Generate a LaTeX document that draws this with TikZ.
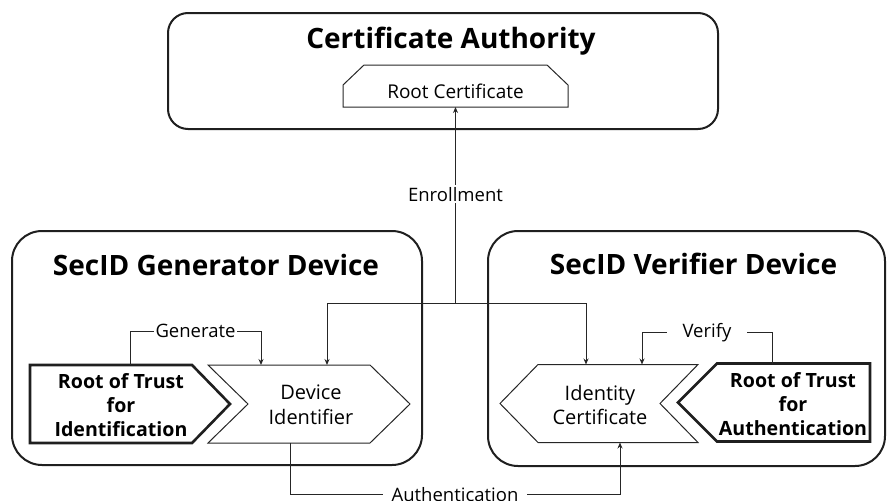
\documentclass[tikz,border=0pt]{standalone}
\usepackage{fontspec}
\setmainfont{Open Sans}
\usetikzlibrary{arrows.meta,calc}
\begin{document}
\begin{tikzpicture}[x=1pt,y=-1pt,
  every node/.style={inner sep=0pt, outer sep=0pt},
  groupbox/.style={draw=black!88, line width=2pt, rounded corners=#1},
  groupbox/.default=30pt,
  title/.style={anchor=base, font=\fontsize{28}{32}\selectfont\bfseries},
  holder/.style={minimum width=#1, minimum height=78pt},
  thinline/.style={draw=black!85, line width=1pt},
  trustline/.style={draw=black!88, line width=2.6pt, line join=miter},
  body/.style={align=center, font=\fontsize{20}{24.5}\selectfont},
  bodybold/.style={align=center, font=\fontsize{19.6}{24}\selectfont\bfseries},
  conn/.style={draw=black!85, line width=1pt},
  arrow/.style={conn, -{Stealth[length=6pt,width=5pt]}},
  lbl/.style={fill=white, font=\fontsize{18.5}{22}\selectfont, inner ysep=2pt, inner xsep=#1},
  lbl/.default=2pt
]
\useasboundingbox (0,0) rectangle (887,501);

% --- Certificate Authority ---
\node[groupbox=20pt, minimum width=550pt, minimum height=116pt] (ca) at (443,71) {};
\node[title] (catitle) at (451,48.5) {Certificate Authority};
\node[minimum width=225pt, minimum height=42pt] (rc) at (455.5,86) {};
\draw[thinline] (rc.south west) -- ($(rc.west)+(0,-1)$) -- ($(rc.north west)+(21,0)$)
  -- ($(rc.north east)+(-21,0)$) -- ($(rc.east)+(0,-1)$) -- (rc.south east) -- cycle;
\node[anchor=base, font=\fontsize{19}{22}\selectfont] (rctext) at (455.5,98) {Root Certificate};

% --- SecID Generator Device ---
\node[groupbox, minimum width=410pt, minimum height=234pt] (gen) at (217,348) {};
\node[title] (gentitle) at (216,275) {SecID Generator Device};

\node[holder=200pt] (rti) at (130,404) {};
\draw[trustline] (rti.north west) -- ($(rti.north east)+(-38,0)$) -- (rti.east)
  -- ($(rti.south east)+(-38,0)$) -- (rti.south west) -- cycle;
\node[bodybold] (rtitext) at (121,405) {Root of Trust\\for\\Identification};

\node[holder=202pt] (devid) at (309,404) {};
\draw[thinline] (devid.north west) -- ($(devid.north east)+(-40,0)$) -- (devid.east)
  -- ($(devid.south east)+(-40,0)$) -- (devid.south west) -- ($(devid.west)+(40,0)$) -- cycle;
\node[body] (devidtext) at (311,405) {Device\\Identifier};

% --- SecID Verifier Device ---
\node[groupbox, minimum width=397pt, minimum height=235pt] (ver) at (686.5,348.5) {};
\node[title] (vertitle) at (693.5,274) {SecID Verifier Device};

\node[holder=198pt] (ic) at (599,403.5) {};
\draw[thinline] (ic.west) -- ($(ic.north west)+(38,0)$) -- (ic.north east)
  -- ($(ic.east)+(-38,0)$) -- (ic.south east) -- ($(ic.south west)+(38,0)$) -- cycle;
\node[body] (ictext) at (600,405) {Identity\\Certificate};

\node[holder=192pt] (rta) at (774,402.5) {};
\draw[trustline] (rta.west) -- ($(rta.north west)+(39,0)$) -- (rta.north east)
  -- (rta.south east) -- ($(rta.south west)+(39,0)$) -- cycle;
\node[bodybold] (rtatext) at (793,404) {Root of Trust\\for\\Authentication};

% --- Enrollment ---
\coordinate (junc) at ($(rc.south)+(0,196)$);
\draw[arrow] (junc) -- node[lbl, pos=0.555] (enr) {Enrollment} (rc.south);
\draw[arrow] (junc) -| ($(devid.north)+(18,0)$);
\draw[arrow] (junc) -| ($(ic.north)+(-13,0)$);

% --- Generate / Verify ---
\draw[arrow] (rti.north) |- node[lbl, pos=0.75] (genlbl) {Generate}
  ($(devid.north)+(-48,-34)$) -- ($(devid.north)+(-48,0)$);
\draw[arrow] ($(rta.north)+(-2,0)$) |- node[lbl=16pt, pos=0.75] (verlbl) {Verify}
  ($(ic.north)+(43,-32)$) -- ($(ic.north)+(43,0)$);

% --- Authentication ---
\draw[arrow] ($(devid.south)+(-19,0)$) |- node[lbl=9pt, pos=0.75] (auth) {Authentication}
  ($(ic.south)+(21,52)$) -- ($(ic.south)+(21,0)$);
\end{tikzpicture}
\end{document}
